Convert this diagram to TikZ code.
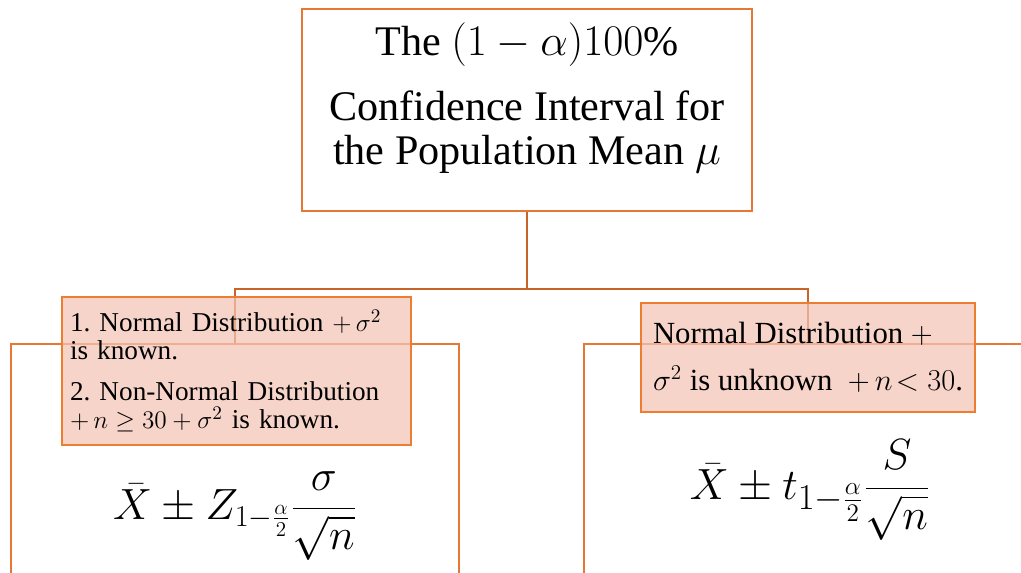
\documentclass[tikz,border=0pt]{standalone}
\usepackage{fontspec}
\setmainfont{Liberation Serif}
\usetikzlibrary{positioning}
\definecolor{linkorange}{RGB}{200,100,40}
\definecolor{boxorange}{RGB}{228,120,52}
\definecolor{condorange}{RGB}{237,125,49}
\definecolor{condpink}{RGB}{244,196,180}
\tikzset{
  framebox/.style={draw=boxorange,line width=1.1pt,inner sep=0pt},
  condbox/.style={draw=condorange,line width=1.3pt,fill=condpink,fill opacity=0.72,draw opacity=1,text opacity=1,inner sep=0pt},
  link/.style={draw=linkorange,line width=1.2pt}
}
\begin{document}
\frenchspacing
\begin{tikzpicture}[x=0.02cm,y=-0.02cm]
			\useasboundingbox (0,0) rectangle (1021,573);
			\clip (0,0) rectangle (1021,573);
			% Kastik tepede
			\node[framebox,minimum width=450*0.02cm,minimum height=202*0.02cm] (title) at (527,110) {};
			\node[align=center,font=\fontsize{24}{25}\selectfont] (titletext) at (527,98)
				{The $(1-\alpha)100\%$\\[12pt] Confidence Interval for\\ the Population Mean $\mu$};
			% Iki alt kutu
			\node[framebox,anchor=north,minimum width=448*0.02cm,minimum height=300*0.02cm] (leftbox) at (235,343) {};
			\node[framebox,anchor=north,minimum width=448*0.02cm,minimum height=300*0.02cm] (rightbox) at (808,343) {};
			% Baglantilar
			\coordinate (split) at (527,289);
			\draw[link] (title.south) -- (split);
			\draw[link] (split) -| (leftbox.north);
			\draw[link] (split) -| (rightbox.north);
			% Kosul kutulari
			\node[condbox,minimum width=349*0.02cm,minimum height=148*0.02cm,text width=333*0.02cm,align=left,
				font=\fontsize{15.5}{16}\selectfont] (leftcond) at (236.5,371)
				{1. Normal Distribution $+\,\sigma^2$\\ is known.\\[7pt] 2. Non-Normal Distribution\\ $+\,n\geq 30+\sigma^2$ is known.};
			\node[condbox,minimum width=334*0.02cm,minimum height=109*0.02cm,align=left,
				font=\fontsize{17.5}{27}\selectfont] (rightcond) at (808,357.5)
				{Normal Distribution $+$\\ $\sigma^2$ is unknown \ $+\,n\!<30$.};
			% Formuller
			\node[font=\fontsize{26}{30}\selectfont] (leftci) at (235,516)
				{$\displaystyle \bar{X}\pm Z_{1-\frac{\alpha}{2}}\frac{\sigma}{\sqrt{n}}$};
			\node[font=\fontsize{28}{32}\selectfont] (rightci) at (810,490)
				{$\displaystyle \bar{X}\pm t_{1-\frac{\alpha}{2}}\frac{S}{\sqrt{n}}$};
		\end{tikzpicture}
\end{document}
